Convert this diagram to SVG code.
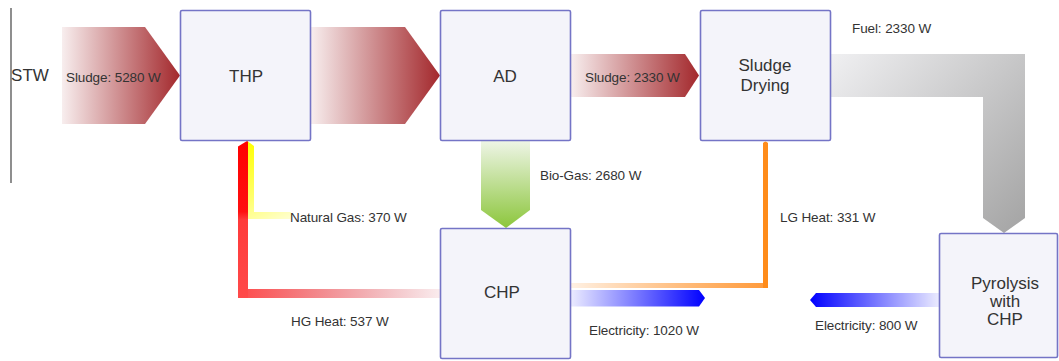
<svg xmlns="http://www.w3.org/2000/svg" width="1059" height="361" viewBox="0 0 1059 361">
<style>
.box{fill:#f4f4fa;stroke:#7474c6;stroke-width:1.6}
.nl{font-family:"Liberation Sans",Arial,sans-serif;font-size:17px;fill:#333;text-anchor:middle}
.lb{font-family:"Liberation Sans",Arial,sans-serif;font-size:13.5px;fill:#333;letter-spacing:-0.1px}
</style>
<defs>
<linearGradient id="gSl" x1="0" y1="0" x2="1" y2="0">
<stop offset="0" stop-color="#a3282c" stop-opacity="0.08"/>
<stop offset="1" stop-color="#a3282c"/>
</linearGradient>
<linearGradient id="gFuel" gradientUnits="userSpaceOnUse" x1="830" y1="54" x2="1030" y2="235">
<stop offset="0" stop-color="#f0f0f2"/>
<stop offset="1" stop-color="#a2a2a2"/>
</linearGradient>
<linearGradient id="gBio" x1="0" y1="0" x2="0" y2="1">
<stop offset="0" stop-color="#eef5e6"/>
<stop offset="1" stop-color="#8cc63c"/>
</linearGradient>
<linearGradient id="gE1" x1="0" y1="0" x2="1" y2="0">
<stop offset="0" stop-color="#0000ff" stop-opacity="0.08"/>
<stop offset="1" stop-color="#0000ff"/>
</linearGradient>
<linearGradient id="gE2" x1="0" y1="0" x2="1" y2="0">
<stop offset="0" stop-color="#0000ff"/>
<stop offset="1" stop-color="#0000ff" stop-opacity="0.08"/>
</linearGradient>
<linearGradient id="gRv" x1="0" y1="0" x2="0" y2="1">
<stop offset="0" stop-color="#ff0000"/>
<stop offset="0.45" stop-color="#ff1010"/>
<stop offset="0.5" stop-color="#ff3a3a"/>
<stop offset="1" stop-color="#ff4a4a"/>
</linearGradient>
<linearGradient id="gRh" x1="0" y1="0" x2="1" y2="0">
<stop offset="0" stop-color="#ff4a4a"/>
<stop offset="1" stop-color="#d04050" stop-opacity="0.1"/>
</linearGradient>
<linearGradient id="gY" gradientUnits="userSpaceOnUse" x1="250" y1="141" x2="290" y2="219">
<stop offset="0" stop-color="#ffff00"/>
<stop offset="0.6" stop-color="#ffff70"/>
<stop offset="1" stop-color="#ffffd0"/>
</linearGradient>
<linearGradient id="gOh" x1="0" y1="0" x2="1" y2="0">
<stop offset="0" stop-color="#ff8a1a" stop-opacity="0.12"/>
<stop offset="1" stop-color="#ff9a3a"/>
</linearGradient>
</defs>

<g id="connectors">
<path id="sludge-stw-thp" d="M62,27 H145 L180,75.5 L145,124 H62 Z" fill="url(#gSl)"/>
<path id="sludge-thp-ad" d="M311,27 H405 L440,75.5 L405,124 H311 Z" fill="url(#gSl)"/>
<path id="sludge-ad-dry" d="M571,54 H685 L699,75.5 L685,97 H571 Z" fill="url(#gSl)"/>
<path id="fuel" d="M831,54 H1025 V218 L1004,233 L983,218 V97 H831 Z" fill="url(#gFuel)"/>
<path id="biogas" d="M481,141 H530 V210 L506,228 L481,210 Z" fill="url(#gBio)"/>
<path id="elec-chp" d="M571,290 H699 L705,298 L699,306.5 H571 Z" fill="url(#gE1)"/>
<path id="elec-pyro" d="M939,293 H816 L810,300 L816,307 H939 Z" fill="url(#gE2)"/>
<rect id="lg-heat-h" x="571" y="283" width="197" height="5" fill="url(#gOh)"/>
<path id="lg-heat-v" d="M763,288 V143 Q765.5,140 768,143 V288 Z" fill="#ff8c1a"/>
<rect id="hg-heat-h" x="238" y="289" width="202" height="9" fill="url(#gRh)"/>
<path id="hg-heat-v" d="M238,298 V146.5 L247,141 L248,141.5 V298 Z" fill="url(#gRv)"/>
<path id="natural-gas" d="M248,141.5 L254,146 V212 H291 V219 H248 Z" fill="url(#gY)"/>
<text class="lb" x="66" y="82">Sludge: 5280 W</text>
<text class="lb" x="585" y="82">Sludge: 2330 W</text>
<text class="lb" x="852" y="33">Fuel: 2330 W</text>
<text class="lb" x="540" y="180">Bio-Gas: 2680 W</text>
<text class="lb" x="780" y="222">LG Heat: 331 W</text>
<text class="lb" x="290" y="222">Natural Gas: 370 W</text>
<text class="lb" x="291" y="326">HG Heat: 537 W</text>
<text class="lb" x="589" y="335">Electricity: 1020 W</text>
<text class="lb" x="815" y="330">Electricity: 800 W</text>
</g>

<g id="STW">
<line x1="11" y1="8" x2="11" y2="183" stroke="#444" stroke-width="1.2"/>
<text class="nl" x="30" y="81">STW</text>
</g>
<g id="THP">
<rect class="box" x="180.5" y="10.5" width="130" height="130" rx="1.5"/>
<text class="nl" x="246" y="82">THP</text>
</g>
<g id="AD">
<rect class="box" x="440.5" y="10.5" width="130" height="130" rx="1.5"/>
<text class="nl" x="505" y="82">AD</text>
</g>
<g id="SludgeDrying">
<rect class="box" x="700.5" y="10.5" width="130" height="130" rx="1.5"/>
<text class="nl" x="765" y="71">Sludge</text>
<text class="nl" x="765" y="91">Drying</text>
</g>
<g id="CHP">
<rect class="box" x="440.5" y="228.5" width="130" height="130" rx="1.5"/>
<text class="nl" x="502" y="298">CHP</text>
</g>
<g id="Pyrolysis">
<rect class="box" x="939.5" y="233.5" width="118" height="124" rx="1.5"/>
<text class="nl" x="1005" y="289">Pyrolysis</text>
<text class="nl" x="1005" y="307">with</text>
<text class="nl" x="1005" y="325">CHP</text>
</g>
</svg>
